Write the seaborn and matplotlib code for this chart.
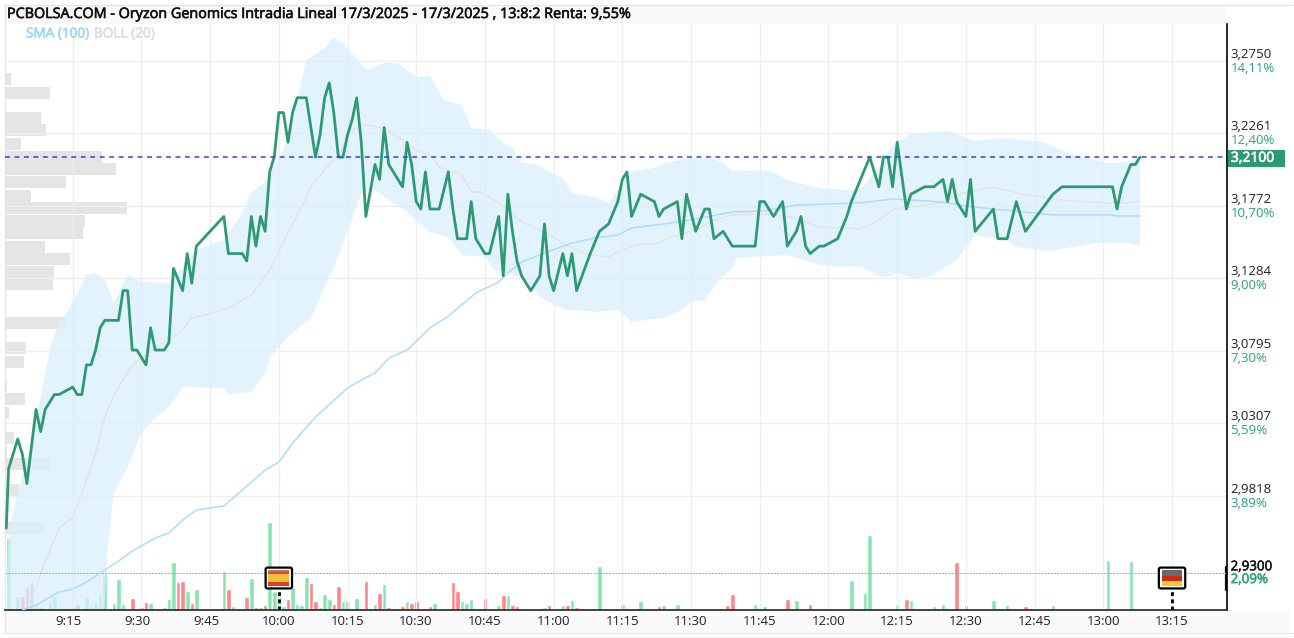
import matplotlib
matplotlib.use("Agg")
import matplotlib.pyplot as plt
import matplotlib.patheffects as pe
from matplotlib.lines import Line2D
from matplotlib.offsetbox import AnnotationBbox, DrawingArea
from matplotlib.patches import FancyBboxPatch, Rectangle
from matplotlib.transforms import ScaledTranslation
import pandas as pd
import seaborn as sns

# Minutes after 9:00 and traded price
price_minutes = [0.5, 1, 3, 4, 5, 6, 7, 8, 9, 11, 12, 15, 16, 17, 18, 19, 20, 21, 22, 25, 26, 27, 28, 29, 31, 32, 33,
                 35, 36, 37, 39, 40, 41, 42, 48, 49, 52, 53, 54, 55, 56, 57, 58, 59, 60, 61, 62, 63, 64, 66, 67, 68,
                 69, 70, 71, 72, 73, 74, 75, 76, 77, 78, 79, 81, 82, 83, 84, 87, 88, 89, 90, 91, 92, 93, 95, 97, 98,
                 99, 101, 102, 103, 105, 106, 108, 109, 110, 111, 112, 113, 115, 117, 118, 119, 120, 122, 123, 124,
                 125, 128, 130, 132, 134, 135, 136, 137, 139, 142, 143, 144, 147, 148, 149, 151, 153, 154, 155, 157,
                 159, 164, 165, 166, 168, 170, 171, 173, 174, 175, 176, 178, 179, 182, 184, 185, 187, 189, 191, 192,
                 193, 194, 195, 197, 198, 201, 203, 205, 206, 207, 208, 210, 211, 212, 216, 217, 219, 221, 223, 229,
                 231, 242, 243, 244, 246, 247, 248]
price_values = [2.96, 3.00, 3.02, 3.01, 2.99, 3.015, 3.04, 3.025, 3.04, 3.05, 3.05, 3.055, 3.05, 3.05, 3.07, 3.07,
                3.08, 3.095, 3.10, 3.10, 3.12, 3.12, 3.08, 3.08, 3.07, 3.095, 3.08, 3.08, 3.085, 3.135, 3.12, 3.145,
                3.125, 3.15, 3.17, 3.145, 3.145, 3.14, 3.17, 3.15, 3.17, 3.16, 3.20, 3.21, 3.24, 3.24, 3.22, 3.24,
                3.25, 3.25, 3.23, 3.21, 3.225, 3.25, 3.26, 3.24, 3.21, 3.21, 3.225, 3.235, 3.25, 3.22, 3.17, 3.205,
                3.195, 3.23, 3.205, 3.19, 3.22, 3.205, 3.18, 3.175, 3.20, 3.175, 3.175, 3.20, 3.175, 3.155, 3.155,
                3.18, 3.155, 3.145, 3.145, 3.17, 3.13, 3.185, 3.16, 3.14, 3.13, 3.12, 3.13, 3.165, 3.13, 3.12, 3.145,
                3.13, 3.145, 3.12, 3.145, 3.16, 3.165, 3.18, 3.195, 3.20, 3.17, 3.185, 3.18, 3.17, 3.175, 3.18, 3.155,
                3.185, 3.16, 3.175, 3.175, 3.155, 3.16, 3.15, 3.15, 3.18, 3.18, 3.17, 3.18, 3.15, 3.16, 3.17, 3.15,
                3.145, 3.15, 3.15, 3.155, 3.17, 3.18, 3.195, 3.21, 3.19, 3.21, 3.21, 3.19, 3.22, 3.175, 3.185, 3.19,
                3.19, 3.195, 3.18, 3.195, 3.18, 3.17, 3.195, 3.16, 3.175, 3.155, 3.155, 3.18, 3.16, 3.185, 3.19, 3.19,
                3.175, 3.19, 3.205, 3.205, 3.21]

# 100-period moving average
sma_minutes = [4, 7, 12, 15, 18, 22, 25, 28, 33, 36, 39, 42, 48, 52, 57, 60, 63, 68, 75, 78, 81, 84, 88, 93, 97, 103,
               108, 110, 113, 118, 124, 129, 134, 137, 144, 151, 159, 166, 173, 180, 187, 194, 202, 206, 210, 216,
               223, 229, 242, 243, 248]
sma_values = [2.9048, 2.9081, 2.9169, 2.9189, 2.9236, 2.9317, 2.9378, 2.9445, 2.9533, 2.9567, 2.9654, 2.9722, 2.9749,
              2.9856, 2.9991, 3.0045, 3.0173, 3.0348, 3.0544, 3.0598, 3.0645, 3.0746, 3.0800, 3.0948, 3.1029, 3.1184,
              3.1258, 3.1319, 3.1393, 3.1454, 3.1521, 3.1555, 3.1575, 3.1622, 3.1649, 3.1683, 3.1730, 3.1737, 3.1777,
              3.1784, 3.1791, 3.1818, 3.1804, 3.1791, 3.1771, 3.1750, 3.1730, 3.1710, 3.1710, 3.1703, 3.1703]

# Bollinger middle line
boll_minutes = [6, 8, 12, 15, 17, 20, 22, 24, 28, 32, 39, 41, 44, 49, 54, 58, 62, 65, 67, 70, 73, 76, 79, 83, 86, 90,
                93, 95, 100, 102, 104, 109, 113, 118, 122, 127, 132, 135, 138, 143, 145, 151, 155, 159, 166, 172, 178,
                183, 187, 191, 194, 198, 204, 210, 216, 223, 231, 240, 245, 248]
boll_values = [2.9115, 2.9297, 2.9600, 2.9668, 2.9836, 3.0106, 3.0348, 3.0497, 3.0699, 3.0787, 3.0935, 3.1016, 3.1036,
               3.1083, 3.1171, 3.1339, 3.1589, 3.1764, 3.1899, 3.2013, 3.2114, 3.2283, 3.2317, 3.2296, 3.2236, 3.2148,
               3.2114, 3.2033, 3.1980, 3.1865, 3.1865, 3.1771, 3.1663, 3.1595, 3.1521, 3.1447, 3.1427, 3.1474, 3.1508,
               3.1521, 3.1555, 3.1609, 3.1676, 3.1710, 3.1717, 3.1696, 3.1629, 3.1622, 3.1616, 3.1676, 3.1744, 3.1764,
               3.1791, 3.1865, 3.1899, 3.1845, 3.1811, 3.1791, 3.1791, 3.1804]

# Bollinger envelope
upper_minutes = [0.5, 1, 3, 5, 8, 10, 12, 13, 16, 18, 20, 22, 24, 27, 30, 36, 42, 48, 52, 54, 57, 61, 64, 66, 70, 72,
                 74, 79, 83, 86, 90, 93, 96, 100, 102, 106, 109, 111, 113, 116, 119, 122, 124, 129, 132, 137, 142, 144,
                 150, 155, 157, 159, 167, 171, 178, 184, 187, 191, 194, 198, 206, 212, 218, 227, 232, 241, 245, 248]
upper_values = [2.9048, 2.9567, 2.9836, 3.0059, 3.0483, 3.0800, 3.1002, 3.1016, 3.1184, 3.1306, 3.1319, 3.1272, 3.1117,
                3.1306, 3.1258, 3.1252, 3.1474, 3.1541, 3.1723, 3.1865, 3.1932, 3.2148, 3.2485, 3.2755, 3.2835, 3.2910,
                3.2869, 3.2687, 3.2734, 3.2734, 3.2640, 3.2647, 3.2485, 3.2451, 3.2296, 3.2283, 3.2195, 3.2161, 3.2060,
                3.2054, 3.2000, 3.1959, 3.1858, 3.1831, 3.1791, 3.2000, 3.2027, 3.2060, 3.2094, 3.2087, 3.2060, 3.2006,
                3.2013, 3.1946, 3.1892, 3.1878, 3.1880, 3.2033, 3.2182, 3.2256, 3.2276, 3.2209, 3.2229, 3.2202, 3.2128,
                3.2060, 3.2067, 3.2101]
lower_minutes = [0.5, 22, 22.5, 24, 27, 30, 33, 36, 39, 48, 49, 54, 57, 58, 62, 67, 72, 76, 78, 81, 84, 88, 93, 97, 100,
                 105, 107, 113, 117, 122, 129, 134, 137, 144, 148, 150, 153, 156, 159, 160, 171, 178, 182, 187, 192,
                 195, 198, 202, 208, 212, 219, 221, 228, 238, 246, 248]
lower_values = [2.9048, 2.9048, 2.9432, 2.9836, 3.0011, 3.0241, 3.0342, 3.0416, 3.0551, 3.0544, 3.0503, 3.0517, 3.0645,
                3.0753, 3.0888, 3.1016, 3.1359, 3.1676, 3.1858, 3.1878, 3.1811, 3.1730, 3.1595, 3.1562, 3.1440, 3.1427,
                3.1339, 3.1292, 3.1157, 3.1076, 3.1056, 3.1070, 3.0989, 3.1016, 3.1070, 3.1124, 3.1137, 3.1272, 3.1353,
                3.1420, 3.1440, 3.1373, 3.1359, 3.1366, 3.1285, 3.1319, 3.1285, 3.1292, 3.1407, 3.1575, 3.1541, 3.1494,
                3.1467, 3.1521, 3.1521, 3.1501]

# Volume per minute, split by the direction of the trade
up_minutes = [1, 3, 6, 7, 10, 11, 12, 15, 18, 19, 20, 21, 22, 23, 24, 25, 26, 29, 32, 35, 36, 37, 40, 42, 48, 50, 52,
              54, 56, 58, 59, 60, 61, 63, 64, 65, 66, 69, 70, 71, 74, 75, 76, 77, 81, 83, 88, 94, 97, 100, 101, 102,
              108, 110, 117, 118, 122, 124, 130, 134, 135, 136, 139, 144, 147, 149, 164, 165, 166, 173, 178, 179, 184,
              185, 188, 189, 193, 195, 198, 203, 205, 207, 211, 216, 219, 229, 241, 246]
up_volumes = [72, 14, 28, 5, 8, 14, 4, 4, 14, 4, 7, 16, 37, 2, 7, 31, 6, 1, 7, 3, 11, 48, 19, 21, 39, 4, 2,
              32, 3, 88, 19, 14, 4, 23, 6, 5, 33, 3, 16, 11, 9, 9, 2, 12, 6, 26, 9, 7, 1, 9, 7, 11,
              5, 15, 1, 3, 5, 10, 44, 2, 6, 2, 9, 5, 6, 1, 6, 1, 4, 10, 1, 2, 1,
              30, 17, 75, 2, 6, 10, 4, 6, 1, 1, 10, 5, 5, 50, 49]
down_minutes = [4, 5, 8, 9, 16, 28, 30, 31, 38, 39, 41, 49, 53, 55, 57, 62, 67, 68, 72, 73, 79, 82, 84, 87, 89, 90, 91,
                93, 98, 99, 105, 109, 111, 112, 113, 115, 119, 120, 123, 125, 137, 143, 148, 151, 158, 159, 171, 176,
                194, 197, 206, 208, 210, 212, 223]
down_volumes = [14, 23, 3, 1, 6, 12, 3, 8, 28, 29, 7, 21, 13, 3, 5, 11, 27, 9, 6, 24, 29, 17, 3, 4, 7, 9, 2,
                4, 28, 19, 12, 15, 5, 4, 1, 1, 5, 1, 5, 3, 1, 4, 1, 1, 5, 16, 11, 6,
                1, 11, 2, 48, 5, 1, 4]

# Volume traded at each price level
profile_prices = [3.2627, 3.2532, 3.2364, 3.2283, 3.2188, 3.2101, 3.2020, 3.1932, 3.1838, 3.1757, 3.1669, 3.1589,
                  3.1494, 3.1413, 3.1326, 3.1245, 3.0982, 3.0814, 3.0719, 3.0564, 3.0470, 3.0375, 3.0281, 3.0207,
                  3.0112, 3.0032, 2.9856, 2.9600]
profile_volumes = [6, 45, 36, 41, 16, 97, 111, 61, 26, 122, 80, 78, 40, 65, 49, 48, 61, 21, 19, 2, 20, 4, 1, 9, 2, 45,
                   14, 40]

grid_prices = [3.2750, 3.2261, 3.1772, 3.1284, 3.0795, 3.0307, 2.9818]
price_labels = ["3,2750", "3,2261", "3,1772", "3,1284", "3,0795", "3,0307", "2,9818"]
percent_labels = ["14,11%", "12,40%", "10,70%", "9,00%", "7,30%", "5,59%", "3,89%"]
time_ticks = list(range(15, 256, 15))
time_labels = ["9:15", "9:30", "9:45", "10:00", "10:15", "10:30", "10:45", "11:00", "11:15", "11:30", "11:45",
               "12:00", "12:15", "12:30", "12:45", "13:00", "13:15"]
last_price = 3.21
base_price = 2.93

GREEN = "#2e9a74"
LABEL_GREEN = "#2aa27a"
BAR_GREEN = "#89e4b2"
BAR_RED = "#ff8789"
BLUE = "#aedcfc"
BAND = "#daf0fe"
GRID = "#efefef"
WIDTH, HEIGHT = 1294, 638

sns.set_theme(style="white")
plt.rcParams["font.family"] = ["Open Sans", "DejaVu Sans"]

fig = plt.figure(figsize=(WIDTH / 100, HEIGHT / 100), dpi=100, facecolor="white")


def heavy(colour, width=0.45):
    """Thicken text with a thin outline in its own colour."""
    return [pe.withStroke(linewidth=width, foreground=colour)]


def frame_rect(left, top, right, bottom, **style):
    """Add a rectangle to the figure, given in pixels from the top-left corner."""
    fig.add_artist(Rectangle((left / WIDTH, 1 - bottom / HEIGHT), (right - left) / WIDTH, (bottom - top) / HEIGHT,
                             transform=fig.transFigure, **style))


# Page furniture around the plotting area
frame_rect(5, 5, 1227, 24, facecolor="#f9f9f9", edgecolor="none", zorder=0)
frame_rect(5, 611, 1290, 632, facecolor="#fafafa", edgecolor="none", zorder=0)
fig.add_artist(Line2D([4 / WIDTH, 1 - 1 / WIDTH], [1 - 4.5 / HEIGHT] * 2, color="#e6e6e6", lw=1, zorder=0))
fig.add_artist(Line2D([4 / WIDTH, 1 - 1 / WIDTH], [1 - 632.5 / HEIGHT] * 2, color="#e6e6e6", lw=1, zorder=0))
fig.add_artist(Line2D([4.5 / WIDTH] * 2, [1 - 632 / HEIGHT, 1 - 4 / HEIGHT], color="#e6e6e6", lw=1, zorder=0))
frame_rect(1228, 150, 1285, 166.5, facecolor=GREEN, edgecolor="none", zorder=0)

rect = [5 / WIDTH, 1 - 610 / HEIGHT, 1222 / WIDTH, 586 / HEIGHT]
ax = fig.add_axes(rect)
ax_volume = ax.twinx()
ax_profile = ax.twiny()
ax.set_zorder(3)
ax_profile.set_zorder(1)
ax_volume.set_zorder(2)
ax.patch.set_visible(False)
ax_volume.patch.set_visible(False)

# Volume profile on the left edge
ax_profile.barh(profile_prices, profile_volumes, height=0.0078, color="#e3e3e3", alpha=0.9, linewidth=0)
ax_profile.set_xlim(0, 1222)
ax_profile.set_axis_off()

# Volume bars along the bottom
volumes = pd.DataFrame({
    "minute": up_minutes + down_minutes,
    "volume": up_volumes + down_volumes,
    "side": ["up"] * len(up_minutes) + ["down"] * len(down_minutes),
})
sns.barplot(data=volumes, x="minute", y="volume", hue="side", palette={"up": BAR_GREEN, "down": BAR_RED},
            native_scale=True, dodge=False, width=1.0, saturation=1, legend=False, ax=ax_volume)
ax_volume.set_ylim(0, 586)
ax_volume.set_axis_off()

# Bollinger band, averages and price
ax.fill(upper_minutes + lower_minutes[::-1], upper_values + lower_values[::-1], color=BAND, alpha=0.75, lw=0, zorder=1)
sns.lineplot(x=boll_minutes, y=boll_values, color="#e4e4e4", lw=1.1, estimator=None, sort=False, ax=ax, zorder=2)
sns.lineplot(x=sma_minutes, y=sma_values, color=BLUE, lw=1.1, estimator=None, sort=False, ax=ax, zorder=3)
sns.lineplot(x=price_minutes, y=price_values, color=GREEN, lw=2.0, estimator=None, sort=False, ax=ax, zorder=4)
ax.axhline(last_price, color="#3c3ce8", lw=1.1, dashes=(3.2, 3.0), zorder=5)
ax.axhline(base_price, color="#a8a8a8", lw=0.7, dashes=(2, 1.2), zorder=2)

ax.set_xlim(0.22, 267)
ax_volume.set_xlim(0.22, 267)
ax.set_ylim(2.9048, 3.2997)
ax.set_xlabel("")
ax.set_ylabel("")
ax.set_xticks(time_ticks, time_labels)
ax.set_yticks(grid_prices)
ax.set_yticklabels([])
ax.tick_params(axis="both", length=0)
ax.tick_params(axis="x", labelsize=9.5, labelcolor="#222222", pad=3.8)
ax.grid(True, color=GRID, lw=1.0)
ax.set_axisbelow(True)
for spine in ("top", "left"):
    ax.spines[spine].set_visible(False)
ax.spines["right"].set_color("black")
ax.spines["right"].set_linewidth(1.2)
ax.spines["bottom"].set_color("#333333")
ax.spines["bottom"].set_linewidth(1.3)

# Time labels start a little to the left of their gridline
shift = ScaledTranslation(-17 / 100, 0, fig.dpi_scale_trans)
for label in ax.get_xticklabels():
    label.set_horizontalalignment("left")
    label.set_transform(label.get_transform() + shift)

# Price and return labels on the right
for value, price_text, percent_text in zip(grid_prices, price_labels, percent_labels):
    for text, offset, colour in ((price_text, 4.6, "#222222"), (percent_text, -5.4, LABEL_GREEN)):
        ax.annotate(text, xy=(1, value), xycoords=("axes fraction", "data"), xytext=(2.6, offset),
                    textcoords="offset points", ha="left", va="center", fontsize=9.5, color=colour,
                    annotation_clip=False)
for text, offset, colour in (("2,9300", 4.2, "#111111"), ("2,09%", -5.0, LABEL_GREEN)):
    ax.annotate(text, xy=(1, base_price), xycoords=("axes fraction", "data"), xytext=(2.6, offset),
                textcoords="offset points", ha="left", va="center", fontsize=9.6, color=colour,
                path_effects=heavy(colour, 0.35), annotation_clip=False)

# Last-price tag
ax.annotate("3,2100", xy=(1, last_price), xycoords=("axes fraction", "data"), xytext=(2.8, -0.8),
            textcoords="offset points", ha="left", va="center", fontsize=10, color="white",
            path_effects=heavy("white", 0.5), annotation_clip=False, zorder=6)
fig.add_artist(Line2D([1226.3 / WIDTH] * 2, [1 - 590 / HEIGHT, 1 - 567 / HEIGHT], color="#111111", lw=1.6))


def exchange_marker(minute, stripes):
    """Flag badge on a dashed stem, standing on the time axis."""
    ax.plot([minute, minute], [2.9048, 2.92], color="black", lw=2.0, dashes=(1.4, 1.2), zorder=6)
    badge = DrawingArea(21, 17)
    badge.add_artist(FancyBboxPatch((1, 1), 19, 15, boxstyle="round,pad=0,rounding_size=1.3", facecolor="white",
                                    edgecolor="black", lw=1.6))
    height = 11.5 / sum(share for share, _ in stripes)
    level = 14.3
    for share, colour in stripes:
        level -= share * height
        badge.add_artist(Rectangle((3, level), 15, share * height, facecolor=colour, edgecolor="none"))
    ax.add_artist(AnnotationBbox(badge, (minute, base_price), xybox=(0, -3.9), boxcoords="offset points", pad=0,
                                 frameon=False, box_alignment=(0.5, 0.5), zorder=7))


exchange_marker(60, [(0.5, "#b5786a"), (0.6, "#d8473a"), (2, "#efc03a"), (0.9, "#dc3b2e")])
exchange_marker(255, [(1.1, "#6a6a6a"), (1, "#cf2c1c"), (0.9, "#f6c92c")])

# Header and indicator legend
fig.text(7 / WIDTH, 1 - 14.5 / HEIGHT,
         "PCBOLSA.COM - Oryzon Genomics Intradia Lineal 17/3/2025 - 17/3/2025 , 13:8:2 Renta: 9,55%",
         ha="left", va="center", fontsize=10.35, color="#111111", path_effects=heavy("#111111"))
fig.text(26 / WIDTH, 1 - 34 / HEIGHT, "SMA (100)", ha="left", va="center", fontsize=9.8, color="#9fd6fb",
         path_effects=heavy("#9fd6fb"))
fig.text(94 / WIDTH, 1 - 34 / HEIGHT, "BOLL (20)", ha="left", va="center", fontsize=9.8, color="#dddddd",
         path_effects=heavy("#dddddd"))

fig.savefig("out.png", dpi=100)
